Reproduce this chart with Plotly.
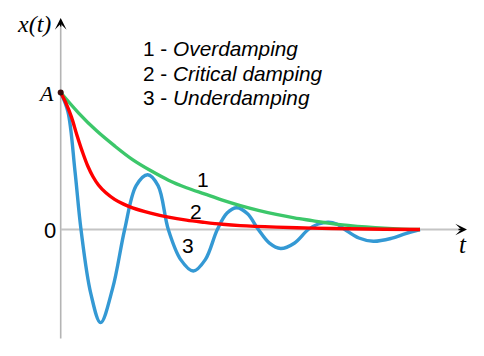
import plotly.graph_objects as go

# ---- Data (t: time units, x normalised so that A = 1) ----
t_over = [0, 0.5, 1, 1.5, 2, 2.5, 3, 3.5, 4, 4.5, 5, 5.5, 6, 6.5, 7, 7.5, 8, 8.5, 9, 9.5, 10]
x_over = [1.0, 0.85, 0.72, 0.61, 0.51, 0.43, 0.36, 0.305, 0.26, 0.215, 0.175, 0.14, 0.11,
          0.085, 0.065, 0.045, 0.03, 0.018, 0.009, 0.003, 0.0]

t_crit = [0, 0.15, 0.3, 0.45, 0.6, 0.75, 0.9, 1.05, 1.25, 1.5, 1.75, 2.0, 2.5, 3.0, 3.5,
          4.0, 4.5, 5.0, 6.0, 7.0, 8.0, 9.0, 10.0]
x_crit = [1.0, 0.92, 0.82, 0.69, 0.57, 0.465, 0.385, 0.325, 0.27, 0.22, 0.185, 0.158, 0.12,
          0.09, 0.068, 0.052, 0.038, 0.028, 0.017, 0.010, 0.005, 0.002, 0.0]

t_under = [0, 0.2, 0.4, 0.565, 0.84, 1.11, 1.445, 1.78, 2.10, 2.42, 2.71, 2.995,
           3.34, 3.69, 4.025, 4.36, 4.63, 4.90, 5.2, 5.5, 5.81, 6.12, 6.5, 6.89,
           7.17, 7.45, 7.68, 7.91, 8.30, 8.70, 9.2, 9.6, 10]
x_under = [1, 0.86, 0.42, 0, -0.47, -0.68, -0.43, 0, 0.32, 0.40, 0.32, 0,
           -0.22, -0.303, -0.22, 0, 0.12, 0.159, 0.115, 0, -0.10, -0.139, -0.10, 0,
           0.04, 0.053, 0.04, 0, -0.062, -0.086, -0.065, -0.03, 0]

legend_lines = [("1", "Overdamping"), ("2", "Critical damping"), ("3", "Underdamping")]
curve_labels = ["1", "2", "3"]

# ---- Layout geometry (page pixels of the reference) ----
OFF = 8                                # page body margin in the browser
W, H = 484 - OFF, 356 - OFF
L, R, T, B = 40, 476, 10, 346          # plot area edges (page pixels)
PX0, PX_PER_T = 60.7, 35.93            # page pixel of t=0, pixels per time unit
PY0, PY_PER_X = 229.5, 137.0           # page pixel of x=0, pixels per x unit


def tx(px):
    return (px - PX0) / PX_PER_T


def xy(py):
    return (PY0 - py) / PY_PER_X


def paper_x(px):
    return (px - L) / (R - L)


def paper_y(py):
    return (B - py) / (B - T)


GREEN = "#3cc76a"
RED = "#ff0000"
BLUE = "#3499d4"

fig = go.Figure()
fig.add_trace(go.Scatter(x=t_under, y=x_under, mode="lines",
                         line=dict(color=BLUE, width=3.4, shape="spline", smoothing=1),
                         hoverinfo="skip"))
fig.add_trace(go.Scatter(x=t_over, y=x_over, mode="lines",
                         line=dict(color=GREEN, width=3.4, shape="spline", smoothing=1),
                         hoverinfo="skip"))
fig.add_trace(go.Scatter(x=t_crit, y=x_crit, mode="lines",
                         line=dict(color=RED, width=3.4, shape="spline", smoothing=1),
                         hoverinfo="skip"))
fig.add_trace(go.Scatter(x=[t_crit[0]], y=[x_crit[0]], mode="markers",
                         marker=dict(color="#3a0c0c", size=6), hoverinfo="skip",
                         cliponaxis=False))

# axes drawn as lines
fig.add_shape(type="line", xref="x", yref="y", x0=0, x1=0, y0=xy(338.5), y1=xy(24),
              line=dict(color="#b4b4b4", width=1.6), layer="below")
fig.add_shape(type="line", xref="x", yref="y", x0=0, x1=tx(460), y0=0, y1=0,
              line=dict(color="#c4c4c4", width=2.2), layer="below")

annotations = []
# arrow heads
annotations.append(dict(x=0, y=xy(18), xref="x", yref="y", text="", showarrow=True,
                        ax=0, ay=10, arrowhead=3, arrowsize=1.5, arrowwidth=1.3,
                        arrowcolor="black", standoff=0))
annotations.append(dict(x=tx(467), y=0, xref="x", yref="y", text="", showarrow=True,
                        ax=-10, ay=0, arrowhead=3, arrowsize=1.5, arrowwidth=1.3,
                        arrowcolor="black", standoff=0))

serif = dict(family="Liberation Serif, Times New Roman, serif", color="black")
sans = "Liberation Sans, Arial, sans-serif"

annotations.append(dict(x=paper_x(34), y=paper_y(24), xref="paper", yref="paper",
                        text="<i>x(t)</i>", showarrow=False, font=dict(size=24, **serif),
                        xanchor="center", yanchor="middle"))
annotations.append(dict(x=paper_x(56), y=paper_y(93), xref="paper", yref="paper",
                        text="<i>A</i>", showarrow=False, font=dict(size=22, **serif),
                        xanchor="right", yanchor="middle"))
annotations.append(dict(x=paper_x(463), y=paper_y(244), xref="paper", yref="paper",
                        text="<i>t</i>", showarrow=False, font=dict(size=25, **serif),
                        xanchor="center", yanchor="middle"))
annotations.append(dict(x=paper_x(50), y=paper_y(230.5), xref="paper", yref="paper",
                        text="0", showarrow=False, font=dict(size=22, family=sans, color="black"),
                        xanchor="center", yanchor="middle"))

for i, (num, name) in enumerate(legend_lines):
    annotations.append(dict(x=paper_x(140.5), y=paper_y(48 + 25 * i), xref="paper", yref="paper",
                            text=f"{num} - <i>{name}</i>", showarrow=False,
                            font=dict(size=20.8, family=sans, color="black"),
                            xanchor="left", yanchor="middle"))

label_pos = [(202.5, 179), (195.5, 211), (187.5, 245.5)]
for lab, (px, py) in zip(curve_labels, label_pos):
    annotations.append(dict(x=paper_x(px), y=paper_y(py), xref="paper", yref="paper",
                            text=lab, showarrow=False,
                            font=dict(size=21, family=sans, color="black"),
                            xanchor="center", yanchor="middle"))

fig.update_layout(
    width=W, height=H,
    margin=dict(l=L - OFF, r=W - (R - OFF), t=T - OFF, b=H - (B - OFF), pad=0),
    paper_bgcolor="white", plot_bgcolor="white",
    showlegend=False,
    xaxis=dict(range=[tx(L), tx(R)], visible=False, fixedrange=True),
    yaxis=dict(range=[xy(B), xy(T)], visible=False, fixedrange=True),
    annotations=annotations,
)

fig.write_html("out.html", config={"displayModeBar": False})
